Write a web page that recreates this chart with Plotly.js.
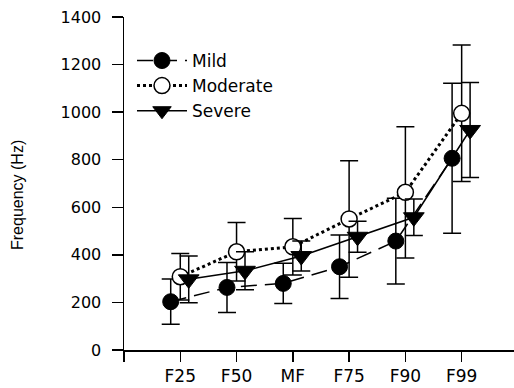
<!DOCTYPE html>
<html>
<head>
<meta charset="utf-8">
<script src="https://cdn.plot.ly/plotly-3.0.1.min.js"></script>
<style>html,body{margin:0;padding:0;background:#fff;}#chart{width:514px;height:388px;}</style>
</head>
<body>
<div id="chart"></div>
<script>
const categories = ["F25", "F50", "MF", "F75", "F90", "F99"];
const mildValues = [203, 263, 280, 350, 458, 806];
const mildErrors = [95, 105, 85, 133, 180, 315];
const moderateValues = [308, 413, 434, 551, 663, 995];
const moderateErrors = [98, 123, 119, 245, 276, 287];
const severeValues = [297, 333, 395, 476, 558, 925];
const severeErrors = [98, 80, 63, 65, 77, 200];
const yTicks = [0, 200, 400, 600, 800, 1000, 1200, 1400];

const idx = categories.map((c, i) => i);
function xs(off) { return idx.map(i => i + off); }

const eb = (arr) => ({type: 'data', array: arr, visible: true, color: '#000', thickness: 1.5, width: 9});

const traces = [
  {
    name: 'Mild', legendgroup: 'a', x: xs(-0.17), y: mildValues, error_y: eb(mildErrors),
    mode: 'lines+markers', type: 'scatter',
    line: {color: '#000', width: 1.5, dash: '16px,8px'},
    marker: {symbol: 'circle', size: 16, color: '#000', line: {color: '#000', width: 1}}
  },
  {
    name: 'Moderate', legendgroup: 'b', x: xs(0), y: moderateValues, error_y: eb(moderateErrors),
    mode: 'lines+markers', type: 'scatter',
    line: {color: '#000', width: 3, dash: 'dot'},
    marker: {symbol: 'circle', size: 16, color: '#fff', line: {color: '#000', width: 1.5}}
  },
  {
    name: 'Severe', legendgroup: 'c', x: xs(0.15), y: severeValues, error_y: eb(severeErrors),
    mode: 'lines+markers', type: 'scatter',
    line: {color: '#000', width: 1.5},
    marker: {symbol: 'triangle-down', size: 18, color: '#000', line: {color: '#000', width: 1}}
  }
];

const layout = {
  width: 514, height: 388,
  margin: {l: 124, r: 0, t: 17, b: 38},
  paper_bgcolor: '#fff', plot_bgcolor: '#fff',
  font: {family: 'DejaVu Sans, sans-serif', color: '#000', size: 16},
  showlegend: true,
  legend: {x: 0.0205, y: 0.922, xanchor: 'left', yanchor: 'top', bgcolor: 'rgba(0,0,0,0)',
           font: {size: 17}, traceorder: 'grouped', tracegroupgap: 0, itemwidth: 50},
  xaxis: {
    range: [-1, 5.93],
    tickmode: 'array', tickvals: [-1].concat(idx), ticktext: [''].concat(categories),
    showgrid: false, zeroline: false, showline: true, linecolor: '#000', linewidth: 1.5,
    ticks: 'outside', ticklen: 10, tickwidth: 1.5, tickcolor: '#000',
    tickfont: {size: 17}
  },
  yaxis: {
    range: [0, 1400],
    tickmode: 'array', tickvals: yTicks,
    showgrid: false, zeroline: false, showline: true, linecolor: '#000', linewidth: 1.5,
    ticks: 'outside', ticklen: 11, tickwidth: 1.5, tickcolor: '#000',
    ticklabelstandoff: 7,
    tickfont: {size: 16}
  },
  annotations: [{
    text: 'Frequency (Hz)', xref: 'paper', yref: 'paper',
    x: -(124 - 18) / 390, y: (350 - 195) / 333, xanchor: 'center', yanchor: 'middle',
    textangle: -90, showarrow: false,
    font: {family: 'Liberation Sans, Arial, sans-serif', size: 16, color: '#000'}
  }]
};

Plotly.newPlot('chart', traces, layout, {staticPlot: true, displayModeBar: false});
</script>
</body>
</html>
